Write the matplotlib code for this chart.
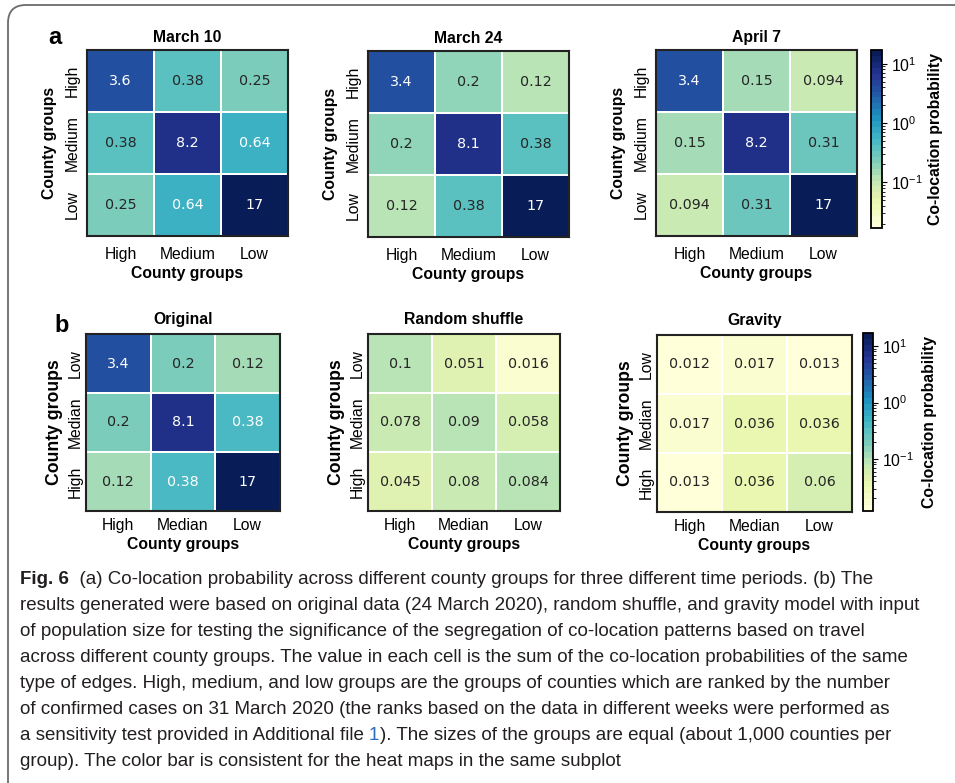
import numpy as np
import matplotlib
matplotlib.use('Agg')
import matplotlib.pyplot as plt
from matplotlib.colors import LogNorm, ListedColormap
from matplotlib.patches import FancyBboxPatch
from matplotlib.transforms import IdentityTransform

plt.rcParams['font.family'] = ['Liberation Sans', 'DejaVu Sans']
plt.rcParams['mathtext.fontset'] = 'custom'
plt.rcParams['mathtext.rm'] = 'Liberation Sans'
plt.rcParams['axes.unicode_minus'] = False

# co-location probabilities, rows listed top to bottom
groups_a = ['High', 'Medium', 'Low']
groups_b_x = ['High', 'Median', 'Low']
groups_b_y = ['Low', 'Median', 'High']

march10 = [[3.6, 0.38, 0.25], [0.38, 8.2, 0.64], [0.25, 0.64, 17]]
march24 = [[3.4, 0.2, 0.12], [0.2, 8.1, 0.38], [0.12, 0.38, 17]]
april7 = [[3.4, 0.15, 0.094], [0.15, 8.2, 0.31], [0.094, 0.31, 17]]

original = [[3.4, 0.2, 0.12], [0.2, 8.1, 0.38], [0.12, 0.38, 17]]
shuffle = [[0.1, 0.051, 0.016], [0.078, 0.09, 0.058], [0.045, 0.08, 0.084]]
gravity = [[0.012, 0.017, 0.013], [0.017, 0.036, 0.036], [0.013, 0.036, 0.06]]

caption_lines = [
    "results generated were based on original data (24 March 2020), random shuffle, and gravity model with input",
    "of population size for testing the significance of the segregation of co-location patterns based on travel",
    "across different county groups. The value in each cell is the sum of the co-location probabilities of the same",
    "type of edges. High, medium, and low groups are the groups of counties which are ranked by the number",
    "of confirmed cases on 31 March 2020 (the ranks based on the data in different weeks were performed as",
]

cmap = ListedColormap(plt.get_cmap('YlGnBu')(np.linspace(0, 1, 30)))
norm_a = LogNorm(vmin=0.017, vmax=17)
norm_b = LogNorm(vmin=0.012, vmax=17)

W, H = 955, 783
fig = plt.figure(figsize=(W / 100, H / 100), dpi=100)


def px_axes(left, top, right, bottom):
    return fig.add_axes([left / W, 1 - bottom / H, (right - left) / W, (bottom - top) / H])


def lum(c):
    rgb = np.array(c[:3])
    rgb = np.where(rgb <= 0.03928, rgb / 12.92, ((rgb + 0.055) / 1.055) ** 2.4)
    return 0.2126 * rgb[0] + 0.7152 * rgb[1] + 0.0722 * rgb[2]


def heat(ax, vals, norm, title, xlabs, ylabs, ylab_size, title_pad, xpad, ypad, ylpad):
    vals = np.array(vals)
    mesh = ax.pcolormesh(vals, cmap=cmap, norm=norm, edgecolors='white', linewidth=1.2)
    ax.set_xlim(0, 3)
    ax.set_ylim(3, 0)
    for i in range(3):
        for j in range(3):
            v = vals[i, j]
            col = 'white' if lum(cmap(norm(v))) <= 0.408 else '#262626'
            ax.text(j + 0.5, i + 0.5, format(v, '.2g'), ha='center', va='center',
                    color=col, fontsize=10.3, family='DejaVu Sans')
    ax.set_xticks([0.5, 1.5, 2.5])
    ax.set_xticklabels(xlabs, fontsize=11.3)
    ax.set_yticks([0.5, 1.5, 2.5])
    ax.set_yticklabels(ylabs, fontsize=11.3, rotation=90, va='center')
    ax.tick_params(axis='x', length=0, pad=xpad)
    ax.tick_params(axis='y', length=0, pad=ypad)
    ax.set_xlabel('County groups', fontsize=11.3, weight='bold', labelpad=3)
    ax.set_ylabel('County groups', fontsize=ylab_size, weight='bold', labelpad=ylpad)
    ax.set_title(title, fontsize=11.3, weight='bold', pad=title_pad)
    for s in ax.spines.values():
        s.set_linewidth(1.5)
        s.set_color('#222222')
    return mesh


def cbar(mesh, box, lpad):
    cax = px_axes(*box)
    cb = fig.colorbar(mesh, cax=cax)
    cb.outline.set_linewidth(1.3)
    cb.ax.tick_params(labelsize=11.3, pad=3)
    cb.set_label('Co-location probability', fontsize=11.3, weight='bold', labelpad=lpad)
    return cb


# panel a
ax1 = px_axes(87, 50, 288, 236)
heat(ax1, march10, norm_a, 'March 10', groups_a, groups_a, 11.3, 6, 8, 5, 6)
ax2 = px_axes(368, 51, 569, 237)
heat(ax2, march24, norm_a, 'March 24', groups_a, groups_a, 11.3, 6, 8, 5, 6)
ax3 = px_axes(656, 50, 857, 236)
m = heat(ax3, april7, norm_a, 'April 7', groups_a, groups_a, 11.3, 6, 8, 5, 6)
cbar(m, (871, 50, 882, 228), 4)

# panel b
bx1 = px_axes(86, 334, 280, 511)
heat(bx1, original, norm_b, 'Original', groups_b_x, groups_b_y, 12.7, 7, 5, 2, 4)
bx2 = px_axes(368, 334, 560, 511)
heat(bx2, shuffle, norm_b, 'Random shuffle', groups_b_x, groups_b_y, 12.7, 7, 5, 2, 4)
bx3 = px_axes(657, 335, 852, 512)
m = heat(bx3, gravity, norm_b, 'Gravity', groups_b_x, groups_b_y, 12.7, 7, 5, 2, 4)
cbar(m, (863, 333, 873, 511), 6)

fig.text(55 / W, 1 - 38 / H, 'a', fontsize=17, weight='bold', ha='center', va='center')
fig.text(62 / W, 1 - 325 / H, 'b', fontsize=17, weight='bold', ha='center', va='center')

# caption
cap_font = dict(fontsize=13.5, color='#231f20')
x0 = 20 / W
base = 584
step = 26
t = fig.text(x0, 1 - base / H, 'Fig. 6', weight='bold', va='baseline', **cap_font)
fig.add_artist(plt.Annotation('  (a) Co-location probability across different county groups for three different time periods. (b) The',
                              xy=(1, 0), xycoords=t, va='bottom', **cap_font))
for k, line in enumerate(caption_lines):
    fig.text(x0, 1 - (base + step * (k + 1)) / H, line, va='baseline', **cap_font)
t7 = fig.text(x0, 1 - (base + step * 6) / H, 'a sensitivity test provided in Additional file ', va='baseline', **cap_font)
t7b = fig.add_artist(plt.Annotation('1', xy=(1, 0), xycoords=t7, va='bottom',
                                    **{**cap_font, 'color': '#2a6ebb'}))
fig.add_artist(plt.Annotation('). The sizes of the groups are equal (about 1,000 counties per',
                              xy=(1, 0), xycoords=t7b, va='bottom', **cap_font))
fig.text(x0, 1 - (base + step * 7) / H, 'group). The color bar is consistent for the heat maps in the same subplot',
         va='baseline', **cap_font)

# frame around the figure block
frame = FancyBboxPatch((8, -60), 1200, H - 5 + 60, boxstyle='round,pad=0,rounding_size=18',
                       transform=IdentityTransform(), facecolor='none', edgecolor='#6b6b6b', lw=1.3)
fig.add_artist(frame)

fig.savefig('out.png', dpi=100)
